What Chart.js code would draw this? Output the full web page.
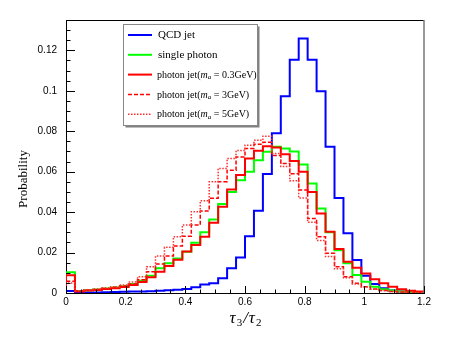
<!DOCTYPE html>
<html>
<head>
<meta charset="utf-8">
<script src="https://cdn.jsdelivr.net/npm/chart.js@4.4.1/dist/chart.umd.min.js"></script>
<style>
  html, body { margin: 0; padding: 0; background: #fff; }
  #wrap { width: 458px; height: 343px; }
</style>
</head>
<body>
<div id="wrap"><canvas id="myChart" width="458" height="343"></canvas></div>
<script>
// tau3/tau2 histograms, 40 bins of width 0.03 from 0 to 1.2
const binWidth = 0.03;

const qcdJet = [0.001, 0.0003, 0.0003, 0.0003, 0.0004, 0.0005, 0.0006, 0.0007, 0.0008, 0.0009,
    0.0011, 0.0013, 0.0016, 0.002, 0.0028, 0.0042, 0.0048, 0.0073, 0.0122, 0.0176,
    0.0281, 0.0407, 0.0588, 0.079, 0.0973, 0.1154, 0.1258, 0.1154, 0.0998, 0.0723,
    0.047, 0.0295, 0.0163, 0.0085, 0.0045, 0.0023, 0.0012, 0.0008, 0.0005, 0.0003];

const singlePhoton = [0.0103, 0.001, 0.0013, 0.0017, 0.0022, 0.0027, 0.0033, 0.0045, 0.006, 0.0085,
    0.0122, 0.0147, 0.0171, 0.0204, 0.0249, 0.03, 0.0364, 0.044, 0.05, 0.0558,
    0.06, 0.0657, 0.0698, 0.0723, 0.0715, 0.07, 0.0635, 0.0542, 0.0418, 0.03,
    0.0212, 0.0147, 0.0089, 0.0056, 0.0031, 0.0018, 0.0012, 0.0008, 0.0005, 0.0003];

const photonJet03 = [0.0088, 0.0008, 0.0012, 0.0015, 0.002, 0.0024, 0.003, 0.004, 0.0054, 0.0078,
    0.0105, 0.0133, 0.0165, 0.0205, 0.0237, 0.0278, 0.0347, 0.0426, 0.0512, 0.0583,
    0.0665, 0.0703, 0.0726, 0.072, 0.0686, 0.0653, 0.06, 0.05, 0.0393, 0.0303,
    0.0217, 0.0155, 0.0125, 0.0097, 0.0068, 0.0048, 0.0031, 0.0018, 0.0011, 0.0007];

const photonJet3 = [0.0058, 0.001, 0.0013, 0.0017, 0.0022, 0.0028, 0.0035, 0.0045, 0.0065, 0.0105,
    0.0143, 0.0183, 0.0232, 0.0281, 0.0336, 0.0405, 0.0468, 0.055, 0.0607, 0.0673,
    0.0714, 0.0736, 0.0745, 0.068, 0.064, 0.059, 0.0509, 0.0369, 0.0278, 0.0196,
    0.013, 0.008, 0.0048, 0.0031, 0.002, 0.0012, 0.0008, 0.0005, 0.0003, 0.0002];

const photonJet5 = [0.005, 0.001, 0.0015, 0.002, 0.0025, 0.003, 0.004, 0.0055, 0.008, 0.013,
    0.0183, 0.0226, 0.0278, 0.0336, 0.0402, 0.0456, 0.055, 0.0616, 0.0665, 0.0705,
    0.0731, 0.0755, 0.0775, 0.069, 0.0625, 0.0555, 0.047, 0.035, 0.026, 0.018,
    0.012, 0.0075, 0.0045, 0.003, 0.0018, 0.0012, 0.0008, 0.0005, 0.0003, 0.0002];

const xTickValues = [0, 0.2, 0.4, 0.6, 0.8, 1, 1.2];
const xTickLabels = ['0', '0.2', '0.4', '0.6', '0.8', '1', '1.2'];
const yTickValues = [0, 0.02, 0.04, 0.06, 0.08, 0.1, 0.12];
const yTickLabels = ['0', '0.02', '0.04', '0.06', '0.08', '0.1', '0.12'];

const seriesLabels = ['QCD jet', 'single photon', 'photon jet(m_a = 0.3GeV)', 'photon jet(m_a = 3GeV)', 'photon jet(m_a = 5GeV)'];

// histogram outline: start on the axis, one point per bin left edge, close at the last edge
function toSteps(values) {
    const pts = [{x: 0, y: 0}];
    values.forEach((v, i) => pts.push({x: i * binWidth, y: v}));
    pts.push({x: values.length * binWidth, y: values[values.length - 1]});
    return pts;
}

const serif = '"Liberation Serif", "DejaVu Serif", serif';
const sans = '"Liberation Sans", Arial, sans-serif';

const frameAndLegend = {
    id: 'frameAndLegend',
    afterDraw(chart) {
        const ctx = chart.ctx;
        const area = chart.chartArea;
        const xs = chart.scales.x;
        const ys = chart.scales.y;
        ctx.save();

        // top and right frame
        ctx.strokeStyle = '#000';
        ctx.lineWidth = 1;
        ctx.beginPath();
        ctx.moveTo(area.left, area.top + 0.5);
        ctx.lineTo(area.right, area.top + 0.5);
        ctx.stroke();
        ctx.strokeStyle = '#777';
        ctx.lineWidth = 1.5;
        ctx.beginPath();
        ctx.moveTo(area.right, area.top);
        ctx.lineTo(area.right, area.bottom);
        ctx.stroke();

        // inward ticks
        ctx.strokeStyle = '#000';
        ctx.lineWidth = 1;
        ctx.beginPath();
        for (let v = 0; v <= 1.2001; v += 0.05) {
            const major = Math.abs(v / 0.2 - Math.round(v / 0.2)) < 1e-6;
            const px = Math.round(xs.getPixelForValue(v)) + 0.5;
            ctx.moveTo(px, area.bottom);
            ctx.lineTo(px, area.bottom - (major ? 7 : 3.5));
        }
        for (let v = 0; v <= 0.1351; v += 0.005) {
            const major = Math.abs(v / 0.02 - Math.round(v / 0.02)) < 1e-6;
            const py = Math.round(ys.getPixelForValue(v)) + 0.5;
            ctx.moveTo(area.left, py);
            ctx.lineTo(area.left + (major ? 9 : 4.5), py);
        }
        ctx.stroke();

        // axis titles
        ctx.fillStyle = '#000';
        ctx.save();
        ctx.translate(24, 179);
        ctx.rotate(-Math.PI / 2);
        ctx.font = '13px ' + serif;
        ctx.textAlign = 'center';
        ctx.textBaseline = 'middle';
        ctx.fillText('Probability', 0, 0);
        ctx.restore();

        const bigI = 'italic 17px ' + serif;
        const sub = '11px ' + serif;
        const parts = [[bigI, '\u03c4', 0], [sub, '3', 3], [bigI, '/', 0], [bigI, '\u03c4', 0], [sub, '2', 3]];
        let w = 0;
        parts.forEach(p => { ctx.font = p[0]; w += ctx.measureText(p[1]).width + 1; });
        let tx = 246 - w / 2;
        ctx.textAlign = 'left';
        ctx.textBaseline = 'alphabetic';
        parts.forEach(p => { ctx.font = p[0]; ctx.fillText(p[1], tx, 323 + p[2]); tx += ctx.measureText(p[1]).width + 1; });

        // legend box with shadow
        const bx = 123.5, by = 24.5, bw = 134, bh = 101;
        ctx.fillStyle = '#808080';
        ctx.fillRect(bx + 2, by + 2, bw, bh);
        ctx.fillStyle = '#fff';
        ctx.fillRect(bx, by, bw, bh);
        ctx.strokeStyle = '#888';
        ctx.lineWidth = 1;
        ctx.strokeRect(bx, by, bw, bh);

        chart.data.datasets.forEach((ds, i) => {
            const ly = 35 + i * 19.8;
            ctx.strokeStyle = ds.borderColor;
            ctx.lineWidth = ds.borderWidth;
            ctx.setLineDash(ds.borderDash || []);
            ctx.beginPath();
            ctx.moveTo(128, ly);
            ctx.lineTo(152, ly);
            ctx.stroke();
            ctx.setLineDash([]);
            ctx.fillStyle = '#000';
            ctx.textBaseline = 'middle';
            const label = seriesLabels[i];
            if (label.indexOf('m_a') < 0) {
                ctx.font = '11px ' + serif;
                ctx.fillText(label, 158, ly + 0.5);
            } else {
                const pieces = label.split('m_a');
                let px = 157;
                ctx.font = '10px ' + serif;
                ctx.fillText(pieces[0], px, ly + 0.5);
                px += ctx.measureText(pieces[0]).width;
                ctx.font = 'italic 10px ' + serif;
                ctx.fillText('m', px, ly + 0.5);
                px += ctx.measureText('m').width;
                ctx.font = 'italic 7px ' + serif;
                ctx.fillText('a', px, ly + 2.5);
                px += ctx.measureText('a').width;
                ctx.font = '10px ' + serif;
                ctx.fillText(pieces[1], px, ly + 0.5);
            }
        });
        ctx.restore();
    }
};

const datasets = [
    {data: toSteps(qcdJet), borderColor: '#0000ff', borderWidth: 2, order: 5},
    {data: toSteps(singlePhoton), borderColor: '#00ff00', borderWidth: 2, order: 4},
    {data: toSteps(photonJet03), borderColor: '#ff0000', borderWidth: 2, order: 3},
    {data: toSteps(photonJet3), borderColor: '#ff0000', borderWidth: 1.5, borderDash: [4, 2], order: 2},
    {data: toSteps(photonJet5), borderColor: '#ff3030', borderWidth: 1.5, borderDash: [1.5, 1.5], order: 1}
];
datasets.forEach((ds, i) => {
    ds.label = seriesLabels[i];
    ds.stepped = true;
    ds.pointRadius = 0;
    ds.fill = false;
    ds.tension = 0;
});

const ctx = document.getElementById('myChart');
const myChart = new Chart(ctx, {
    type: 'line',
    data: {datasets: datasets},
    options: {
        responsive: false,
        animation: false,
        layout: {padding: {left: 0, right: 34, top: 20, bottom: 0}},
        plugins: {legend: {display: false}, tooltip: {enabled: false}},
        scales: {
            x: {
                type: 'linear',
                min: 0,
                max: 1.2,
                afterBuildTicks: s => { s.ticks = xTickValues.map(v => ({value: v})); },
                afterFit: s => { s.height = 50; },
                grid: {display: false, drawTicks: false},
                border: {display: true, color: '#000', width: 1},
                ticks: {
                    autoSkip: false,
                    maxRotation: 0,
                    padding: 3,
                    color: '#000',
                    font: {family: sans, size: 10},
                    callback: (v, i) => xTickLabels[i]
                }
            },
            y: {
                type: 'linear',
                min: 0,
                max: 0.135,
                afterBuildTicks: s => { s.ticks = yTickValues.map(v => ({value: v})); },
                afterFit: s => { s.width = 66; },
                grid: {display: false, drawTicks: false},
                border: {display: true, color: '#000', width: 1},
                ticks: {
                    padding: 9,
                    color: '#000',
                    font: {family: sans, size: 10},
                    callback: (v, i) => yTickLabels[i]
                }
            }
        }
    },
    plugins: [frameAndLegend]
});
</script>
</body>
</html>
